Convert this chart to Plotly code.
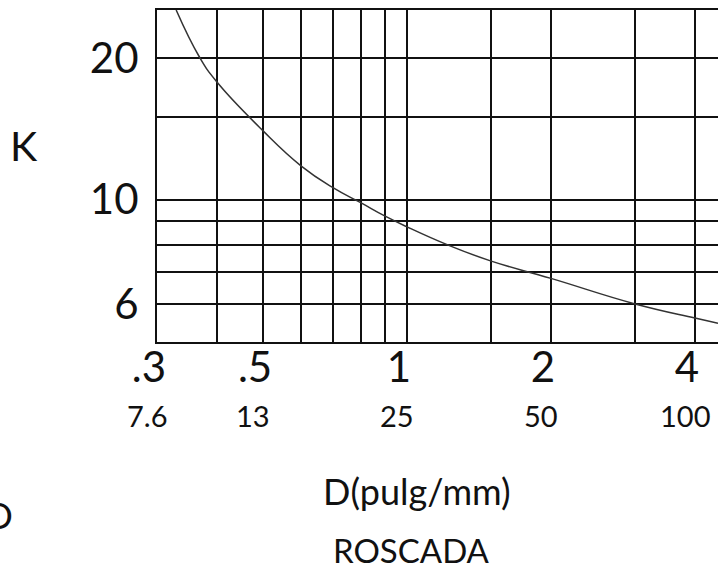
import math
import plotly.graph_objects as go

# Curve: D (pulg) vs K
D_pulg = [0.329, 0.368, 0.40, 0.50, 0.60, 0.70, 0.80, 0.90, 1.00, 1.22, 1.50, 2.00, 3.00, 4.00, 4.47]
K_vals = [25.3, 20.1, 17.8, 14.0, 11.8, 10.6, 9.85, 9.22, 8.75, 8.0, 7.4, 6.8, 6.0, 5.6, 5.46]

# Grid / tick definitions
x_grid = [0.3, 0.4, 0.5, 0.6, 0.7, 0.8, 0.9, 1, 1.5, 2, 3, 4]
x_ticktext = [".3", "", ".5", "", "", "", "", "1", "", "2", "", "4"]
y_grid = [6, 7, 8, 9, 10, 15, 20]
y_ticktext = ["6", "", "", "", "10", "", "20"]
mm_pos = [0.3, 0.5, 1, 2, 4]
mm_text = ["7.6", "13", "25", "50", "100"]

x_range = [0.3, 4.47]
y_range = [4.98, 25.3]

FONT = "Lato"

fig = go.Figure()
fig.add_trace(go.Scatter(
    x=D_pulg, y=K_vals, mode="lines",
    line=dict(color="#333333", width=1.5, shape="spline", smoothing=1.3),
    showlegend=False, hoverinfo="skip",
))

annotations = []
for v, t in zip(mm_pos, mm_text):
    annotations.append(dict(
        x=math.log10(v), xref="x", y=-0.222, yref="paper",
        text=t, showarrow=False, xanchor="center", yanchor="middle",
        xshift=-10, font=dict(family=FONT, size=29, color="#111111"),
    ))

annotations += [
    dict(x=0.463, y=-0.45, xref="paper", yref="paper", text="D(pulg/mm)",
         showarrow=False, xanchor="center", yanchor="middle",
         font=dict(family=FONT, size=36, color="#111111")),
    dict(x=0.454, y=-0.627, xref="paper", yref="paper", text="ROSCADA",
         showarrow=False, xanchor="center", yanchor="middle",
         font=dict(family=FONT, size=33, color="#111111")),
    dict(x=-0.237, y=0.593, xref="paper", yref="paper", text="K",
         showarrow=False, xanchor="center", yanchor="middle",
         font=dict(family=FONT, size=41, color="#111111")),
    dict(x=-0.253, y=-0.521, xref="paper", yref="paper", text="O",
         showarrow=False, xanchor="right", yanchor="middle",
         font=dict(family=FONT, size=36, color="#111111")),
]

fig.update_layout(
    width=718, height=573,
    margin=dict(l=157, r=0, t=10, b=231),
    paper_bgcolor="white", plot_bgcolor="white",
    annotations=annotations,
    xaxis=dict(
        type="log", range=[math.log10(x_range[0]), math.log10(x_range[1])],
        tickmode="array", tickvals=x_grid, ticktext=x_ticktext,
        showgrid=True, gridcolor="#111111", gridwidth=2,
        showline=True, linecolor="#111111", linewidth=2, mirror=True,
        ticks="", ticklabelshift=-8, ticklabelstandoff=-12,
        tickfont=dict(family=FONT, size=42, color="#111111"),
        zeroline=False,
    ),
    yaxis=dict(
        type="log", range=[math.log10(y_range[0]), math.log10(y_range[1])],
        tickmode="array", tickvals=y_grid, ticktext=y_ticktext,
        showgrid=True, gridcolor="#111111", gridwidth=2,
        showline=True, linecolor="#111111", linewidth=2, mirror=False,
        ticks="", ticklabelstandoff=8,
        tickfont=dict(family=FONT, size=42, color="#111111"),
        zeroline=False,
    ),
)

fig.write_html(
    "out.html",
    config={"displayModeBar": False},
    post_script="document.body.style.margin='0';document.body.style.overflow='hidden';",
)
